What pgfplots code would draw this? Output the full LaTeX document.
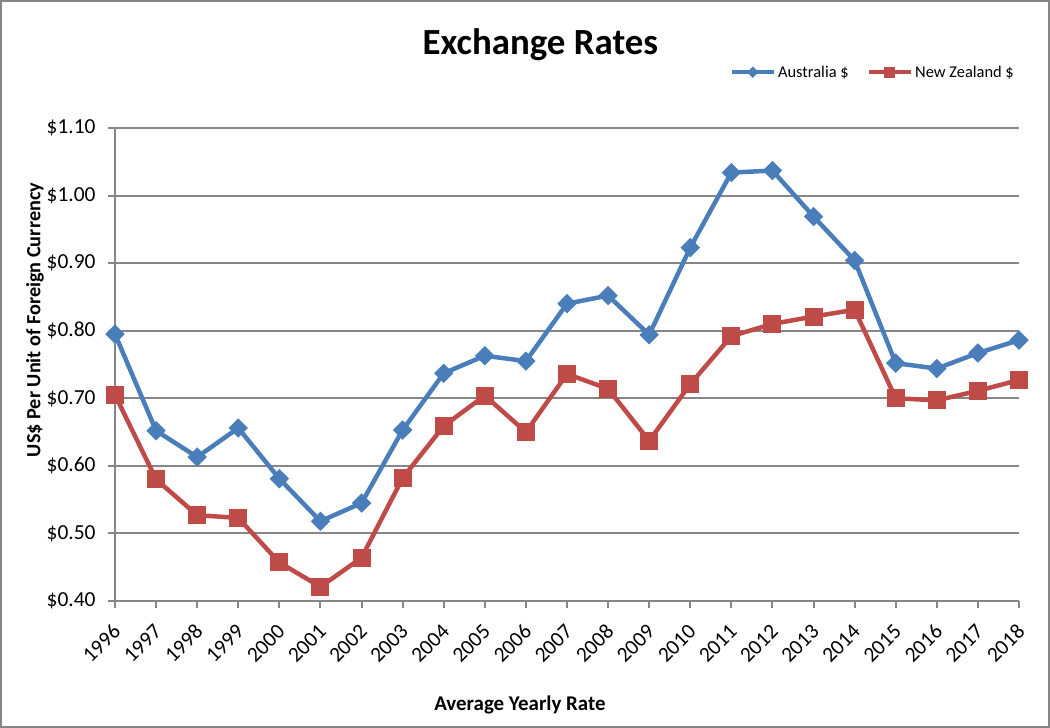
\documentclass[border=0pt]{standalone}
\usepackage{pgfplots}
\pgfplotsset{compat=1.18}
\usepackage{fontspec}
\setmainfont{Carlito}

\definecolor{ausblue}{HTML}{4A7EBB}
\definecolor{nzred}{HTML}{BE4B48}
\definecolor{gridgray}{HTML}{868686}

\begin{document}
\begin{tikzpicture}
\begin{axis}[
  scale only axis,
  width=904bp, height=473bp,
  xmin=1996, xmax=2018,
  ymin=0.40, ymax=1.10,
  ytick={0.4,0.5,...,1.1},
  xtick=data,
  clip=false,
  axis x line*=bottom, axis y line*=left,
  axis line style={gridgray, line width=2bp, -},
  tick style={gridgray, line width=2bp},
  tick align=outside,
  major tick length=7bp,
  ymajorgrids=true,
  grid style={gridgray, line width=2bp},
  /pgf/number format/assume math mode=true,
  xticklabel style={/pgf/number format/1000 sep={}, xshift=2bp, yshift=-20bp, rotate=45, anchor=east, font=\fontsize{21.5}{24}\selectfont, inner sep=0bp},
  yticklabel style={/pgf/number format/.cd, fixed, fixed zerofill, precision=2, /tikz/.cd, font=\fontsize{21.5}{24}\selectfont, xshift=-9bp},
  yticklabel={\$\pgfmathprintnumber{\tick}},
  title={Exchange Rates},
  title style={at={(0.4705,1.142)}, anchor=base, yshift=0bp, font=\bfseries\fontsize{37}{42}\selectfont},
  xlabel={Average Yearly Rate},
  xlabel style={at={(0.448,-0.232)}, anchor=base, font=\bfseries\fontsize{21}{24}\selectfont},
  ylabel={US\$ Per Unit of Foreign Currency},
  ylabel style={at={(-0.0885,0.594)}, anchor=center, font=\bfseries\fontsize{20.3}{23}\selectfont},
  legend columns=2,
  legend style={at={(1.0,1.118)}, anchor=east, draw=none, fill=none,
    font=\fontsize{16.5}{19}\selectfont,
    /tikz/every even column/.append style={column sep=16bp}},
  legend image code/.code={\draw[mark repeat=2,mark phase=2, mark size=5bp] plot coordinates {(0bp,0bp) (21bp,0bp) (42bp,0bp)};},
]
\addplot[ausblue, line width=4.5bp, mark=diamond*, mark size=9bp, mark options={xscale=1.33, fill=ausblue, draw=ausblue, line width=1bp}] coordinates {
(1996,0.795) (1997,0.652) (1998,0.613) (1999,0.656) (2000,0.581)
(2001,0.518) (2002,0.545) (2003,0.653) (2004,0.737) (2005,0.763)
(2006,0.755) (2007,0.840) (2008,0.852) (2009,0.794) (2010,0.923)
(2011,1.034) (2012,1.037) (2013,0.969) (2014,0.904) (2015,0.752)
(2016,0.744) (2017,0.767) (2018,0.786)
};
\addplot[nzred, line width=4.5bp, mark=square*, mark size=8.5bp, mark options={fill=nzred, draw=nzred, line width=1bp}] coordinates {
(1996,0.705) (1997,0.580) (1998,0.527) (1999,0.523) (2000,0.457)
(2001,0.421) (2002,0.464) (2003,0.582) (2004,0.659) (2005,0.704)
(2006,0.650) (2007,0.736) (2008,0.714) (2009,0.637) (2010,0.721)
(2011,0.792) (2012,0.810) (2013,0.821) (2014,0.831) (2015,0.700)
(2016,0.697) (2017,0.711) (2018,0.727)
};
\legend{Australia \$, New Zealand \$}
\end{axis}
\pgfresetboundingbox
\path[use as bounding box] (-115bp,-127bp) rectangle (935bp,601bp);
\draw[gridgray, line width=2.5bp] (-113.75bp,-125.75bp) rectangle (933.75bp,599.75bp);
\end{tikzpicture}
\end{document}
